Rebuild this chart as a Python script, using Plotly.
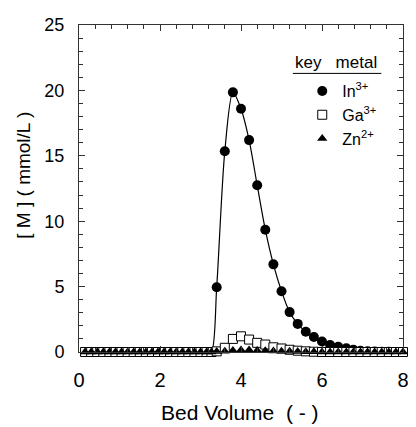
import plotly.graph_objects as go

# ---- data ----
bed_volume = [0.15, 0.30, 0.45, 0.60, 0.75, 0.90, 1.05, 1.20, 1.35, 1.50, 1.65,
              1.80, 1.95, 2.10, 2.25, 2.40, 2.55, 2.70, 2.85, 3.00, 3.15, 3.27,
              3.40, 3.60, 3.80, 4.00, 4.20, 4.40, 4.60, 4.80, 5.00, 5.20, 5.40,
              5.60, 5.80, 6.00, 6.20, 6.40, 6.60, 6.775, 6.95, 7.125, 7.30,
              7.475, 7.65, 7.825, 8.00]

in_conc = [0, 0, 0, 0, 0, 0, 0, 0, 0, 0, 0,
           0, 0, 0, 0, 0, 0, 0, 0, 0, 0, 0,
           4.95, 15.35, 19.85, 18.6, 16.2, 12.75, 9.35, 6.7, 4.65, 3.05, 2.15,
           1.55, 1.15, 0.8, 0.53, 0.4, 0.28, 0.17, 0.09, 0.05, 0.03,
           0.02, 0.01, 0, 0]

ga_conc = [0, 0, 0, 0, 0, 0, 0, 0, 0, 0, 0,
           0, 0, 0, 0, 0, 0, 0, 0, 0, 0, 0,
           0.05, 0.32, 1.0, 1.2, 0.95, 0.7, 0.57, 0.36, 0.27, 0.17, 0.1,
           0.05, 0.02, 0, 0, 0, 0, 0, 0, 0, 0,
           0, 0, 0, 0]

zn_conc = [0, 0, 0, 0, 0, 0, 0, 0, 0, 0, 0,
           0, 0, 0, 0, 0, 0, 0, 0, 0, 0, 0,
           0.03, 0.06, 0.12, 0.15, 0.15, 0.12, 0.1, 0.08, 0.06, 0.05, 0.03,
           0.02, 0.01, 0, 0, 0, 0, 0, 0, 0, 0,
           0, 0, 0, 0]

series_names = ["In<sup>3+</sup>", "Ga<sup>3+</sup>", "Zn<sup>2+</sup>"]
x_ticks = [0, 2, 4, 6, 8]
y_ticks = [0, 5, 10, 15, 20, 25]

FONT = "Arial, Liberation Sans, sans-serif"
AXIS_COLOR = "#333333"

fig = go.Figure()

# smooth line through In data
fig.add_trace(go.Scatter(
    x=bed_volume, y=in_conc, mode="lines",
    line=dict(color="black", width=1.2, shape="spline", smoothing=0.8),
    showlegend=False, cliponaxis=False, hoverinfo="skip"))

fig.add_trace(go.Scatter(
    x=bed_volume, y=in_conc, mode="markers", name=series_names[0],
    marker=dict(symbol="circle", size=10, color="black"),
    cliponaxis=False))

fig.add_trace(go.Scatter(
    x=bed_volume, y=ga_conc, mode="markers", name=series_names[1],
    marker=dict(symbol="square", size=9, color="white",
                line=dict(color="black", width=1)),
    cliponaxis=False))

fig.add_trace(go.Scatter(
    x=bed_volume, y=zn_conc, mode="markers", name=series_names[2],
    marker=dict(symbol="triangle-up", size=9, color="black"),
    cliponaxis=False))

axis_common = dict(
    showgrid=False, zeroline=False, showline=True, linecolor=AXIS_COLOR,
    linewidth=1, mirror="allticks", ticks="inside", ticklen=6,
    tickcolor=AXIS_COLOR, tickwidth=1,
)

# page body has an 8px margin: figure is 8px smaller and shifted
fig.update_layout(
    width=408, height=419,
    margin=dict(l=71, r=7, t=14, b=75),
    paper_bgcolor="white", plot_bgcolor="white",
    font=dict(family=FONT, color="black"),
    xaxis=dict(range=[0, 8], tickvals=x_ticks, ticklabelstandoff=10,
               tickfont=dict(family=FONT, size=20, color="black"),
               minor=dict(dtick=0.4, ticks="inside", ticklen=4,
                          tickcolor=AXIS_COLOR, tickwidth=1),
               **axis_common),
    yaxis=dict(range=[0, 25], tickvals=y_ticks, ticklabelstandoff=10,
               tickfont=dict(family=FONT, size=18, color="black"),
               minor=dict(dtick=1, ticks="inside", ticklen=4,
                          tickcolor=AXIS_COLOR, tickwidth=1),
               **axis_common),
    legend=dict(x=0.689, y=0.85, xanchor="left", yanchor="top",
                bgcolor="rgba(0,0,0,0)",
                font=dict(family=FONT, size=16, color="black"),
                itemwidth=30, tracegroupgap=0),
    annotations=[
        dict(text="Bed Volume&nbsp;&nbsp;(&nbsp;-&nbsp;)", x=0.498, y=-0.185,
             xref="paper", yref="paper", xanchor="center", yanchor="middle",
             showarrow=False, font=dict(family=FONT, size=21)),
        dict(text="[ M ] ( mmol/L )", x=-0.17, y=0.542, xref="paper",
             yref="paper", xanchor="center", yanchor="middle",
             textangle=-90, showarrow=False, font=dict(family=FONT, size=19)),
        dict(text="key&nbsp;&nbsp;&nbsp;metal", x=0.792, y=0.885, xref="paper",
             yref="paper", xanchor="center", yanchor="middle",
             showarrow=False, font=dict(family=FONT, size=17)),
    ],
    shapes=[dict(type="line", xref="paper", yref="paper",
                 x0=0.66, x1=0.933, y0=0.852, y1=0.852,
                 line=dict(color="black", width=1))],
)

fig.write_html("out.html")
